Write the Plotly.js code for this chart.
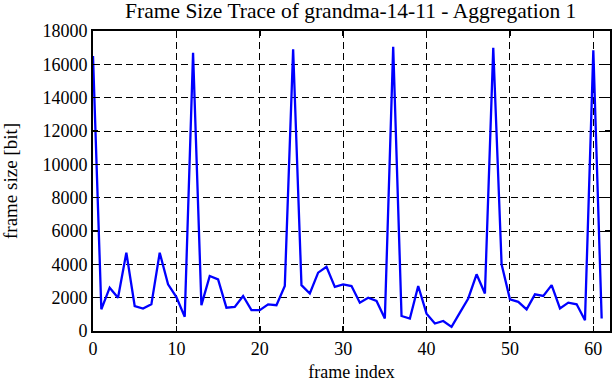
<!DOCTYPE html>
<html>
<head>
<meta charset="utf-8">
<script src="https://cdn.plot.ly/plotly-3.0.1.min.js"></script>
<style>html,body{margin:0;padding:0;background:#fff;}#chart{width:612px;height:382px;}</style>
</head>
<body>
<div id="chart"></div>
<script>
const frameIndex = [0,1,2,3,4,5,6,7,8,9,10,11,12,13,14,15,16,17,18,19,20,21,22,23,24,25,26,27,28,29,30,31,32,33,34,35,36,37,38,39,40,41,42,43,44,45,46,47,48,49,50,51,52,53,54,55,56,57,58,59,60,61];
const frameSize = [16500,1300,2600,2000,4700,1500,1350,1600,4700,2800,2040,850,16700,1550,3300,3100,1400,1450,2100,1250,1250,1600,1550,2700,16900,2750,2250,3500,3850,2650,2800,2700,1700,2000,1800,750,17050,900,750,2700,1040,450,600,250,1100,1950,3400,2250,17000,4000,1900,1750,1300,2200,2100,2750,1350,1700,1600,650,16850,750];
const yTicks = [0,2000,4000,6000,8000,10000,12000,14000,16000,18000];
const xTicks = [0,10,20,30,40,50,60];

const fontFam = '"Liberation Serif", "Times New Roman", serif';
const trace = {
  x: frameIndex, y: frameSize, type: 'scatter', mode: 'lines',
  line: {color: '#0000ff', width: 2.3}, cliponaxis: true, hoverinfo: 'none'
};
const layout = {
  width: 612, height: 382,
  margin: {l: 93, r: 2, t: 31, b: 51},
  paper_bgcolor: '#fff', plot_bgcolor: '#fff',
  showlegend: false,
  font: {family: fontFam, size: 18, color: '#000'},
  title: {text: 'Frame Size Trace of grandma-14-11 - Aggregation 1', font: {family: fontFam, size: 21.5, color: '#000'}, x: 0.573, xanchor: 'center', y: 0.972, yanchor: 'middle'},
  xaxis: {
    range: [0, 62], tickvals: xTicks, ticktext: xTicks.map(String),
    showline: true, linecolor: '#000', linewidth: 2, mirror: 'ticks',
    ticks: 'inside', ticklen: 5, tickwidth: 1.5, tickcolor: '#000',
    showgrid: true, gridcolor: '#000', gridwidth: 1, griddash: '7px,4px',
    zeroline: false, tickfont: {family: fontFam, size: 18}, ticklabelstandoff: 0,
    title: {text: 'frame index', font: {family: fontFam, size: 18}, standoff: 11}
  },
  yaxis: {
    range: [0, 18000], tickvals: yTicks, ticktext: yTicks.map(String),
    showline: true, linecolor: '#000', linewidth: 2, mirror: 'ticks',
    ticks: 'inside', ticklen: 5, tickwidth: 1.5, tickcolor: '#000',
    showgrid: true, gridcolor: '#000', gridwidth: 1, griddash: '7px,4px',
    zeroline: false, tickfont: {family: fontFam, size: 18},
    title: {text: 'frame size [bit]', font: {family: fontFam, size: 19}, standoff: 20}
  }
};
Plotly.newPlot('chart', [trace], layout, {staticPlot: true, displayModeBar: false});
</script>
</body>
</html>
